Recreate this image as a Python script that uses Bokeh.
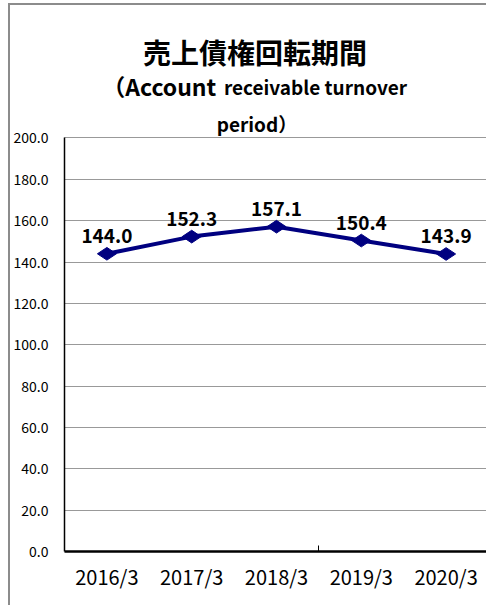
from bokeh.plotting import figure
from bokeh.models import (ColumnDataSource, Range1d, FixedTicker, NumeralTickFormatter,
                          LabelSet, Label)
from bokeh.core.properties import value
from bokeh.embed import file_html
from bokeh.resources import INLINE

# ---- data ----
categories = ["2016/3", "2017/3", "2018/3", "2019/3", "2020/3"]
values = [144.0, 152.3, 157.1, 150.4, 143.9]
y_ticks = [0, 20, 40, 60, 80, 100, 120, 140, 160, 180, 200]
title_text = "売上債権回転期間"
subtitle_a = "（Account"
subtitle_b = "receivable turnover"
subtitle_c = "period）"

FONT = "Noto Sans CJK JP"
NAVY = "#000080"

xs = [i + 0.5 for i in range(len(categories))]
src = ColumnDataSource(dict(x=xs, y=values, lbl=[f"{v:.1f}" for v in values]))

p = figure(width=476, height=600, output_backend="svg", toolbar_location=None,
           x_range=Range1d(0, 5), y_range=Range1d(0, 264.08),
           min_border_left=51, min_border_right=0, min_border_top=0,
           min_border_bottom=56)
p.styles = {"margin-left": "8px", "margin-top": "3px",
            "border-left": "2px solid #8c8c8c", "border-top": "2px solid #8c8c8c",
            "box-sizing": "content-box"}
p.outline_line_color = None
p.background_fill_color = "white"
p.border_fill_color = "white"

# y axis
p.yaxis.ticker = FixedTicker(ticks=y_ticks)
p.yaxis.bounds = (0, 200)
p.yaxis.formatter = NumeralTickFormatter(format="0.0")
p.yaxis.major_tick_line_color = None
p.yaxis.minor_tick_line_color = None
p.yaxis.major_tick_out = 0
p.yaxis.major_label_standoff = 16
p.yaxis.major_label_text_font = FONT
p.yaxis.major_label_text_font_size = "14px"
p.yaxis.major_label_text_color = "black"
p.yaxis.axis_line_color = "black"
p.yaxis.axis_line_width = 1.5

# x axis
p.xaxis.ticker = FixedTicker(ticks=xs, minor_ticks=[3])
p.xaxis.major_label_overrides = {x: c for x, c in zip(xs, categories)}
p.xaxis.major_tick_line_color = None
p.xaxis.major_tick_out = 0
p.xaxis.major_tick_in = 0
p.xaxis.minor_tick_in = 6
p.xaxis.minor_tick_out = 0
p.xaxis.minor_tick_line_color = "black"
p.xaxis.minor_tick_line_width = 1
p.xaxis.major_label_standoff = 10
p.xaxis.major_label_text_font = FONT
p.xaxis.major_label_text_font_size = "20px"
p.xaxis.major_label_text_color = "black"
p.xaxis.axis_line_color = "black"
p.xaxis.axis_line_width = 2.5

# grid
p.xgrid.grid_line_color = None
p.ygrid.ticker = FixedTicker(ticks=y_ticks)
p.ygrid.grid_line_color = "#333333"
p.ygrid.grid_line_dash = "1 1"
p.ygrid.grid_line_width = 1

# series
p.line("x", "y", source=src, line_color=NAVY, line_width=4)
p.scatter("x", "y", source=src, marker="diamond", size=19, angle=1.5708,
          fill_color=NAVY, line_color=NAVY)

labels = LabelSet(x="x", y="y", text="lbl", source=src, y_offset=18,
                  text_align="center", text_baseline="middle",
                  text_font=value(FONT), text_font_size=value("19px"),
                  text_font_style=value("bold"), text_color="black")
p.add_layout(labels)

# titles
p.add_layout(Label(x=2.247, y=241.8, text=title_text, text_align="center",
                   text_baseline="middle", text_font=FONT, text_font_size="28px",
                   text_font_style="bold", text_color="black"))
p.add_layout(Label(x=1.79, y=225.0, text=subtitle_a, text_align="right",
                   text_baseline="alphabetic", text_font=FONT, text_font_size="23px",
                   text_font_style="bold", text_color="black"))
p.add_layout(Label(x=1.88, y=225.0, text=subtitle_b, text_align="left",
                   text_baseline="alphabetic", text_font=FONT, text_font_size="19px",
                   text_font_style="bold", text_color="black"))
p.add_layout(Label(x=2.27, y=207.0, text=subtitle_c, text_align="center",
                   text_baseline="alphabetic", text_font=FONT, text_font_size="19px",
                   text_font_style="bold", text_color="black"))

open("out.html", "w").write(file_html(p, INLINE))
